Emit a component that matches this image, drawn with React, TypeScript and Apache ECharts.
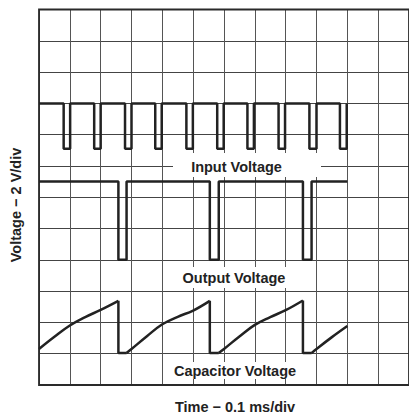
import React, { useEffect, useRef } from "react";
import * as echarts from "echarts";

// Time in divisions (0.1 ms/div), voltage in divisions (2 V/div)
const xDivisions = 12;
const yDivisions = 12;

// Input voltage: square wave with short low pulses
const inputHigh = 9.0;
const inputLow = 7.55;
const inputDipStart = [0.8, 1.79, 2.79, 3.77, 4.78, 5.78, 6.76, 7.77, 8.77, 9.76];
const inputDipEnd = [1.01, 2.0, 3.0, 3.98, 4.99, 5.99, 6.97, 7.98, 9.0, 9.98];
const inputEnd = 10.0;

// Output voltage
const outputHigh = 6.5;
const outputLow = 4.0;
const outputFall = [2.575, 5.54, 8.56];
const outputRise = [2.84, 5.83, 8.84];
const outputEnd = 10.0;

// Capacitor voltage ramps
const capLow = 1.02;
const capRamp1 = [[0, 1.15], [0.5, 1.54], [1, 1.9], [1.5, 2.17], [2, 2.4], [2.575, 2.69]];
const capRamp2 = [[2.84, 1.02], [3.0, 1.15], [3.5, 1.56], [4, 1.94], [4.5, 2.18], [5, 2.38], [5.54, 2.69]];
const capRamp3 = [[5.83, 1.02], [6.0, 1.15], [6.5, 1.55], [7, 1.92], [7.5, 2.17], [8, 2.39], [8.56, 2.7]];
const capRamp4 = [[8.84, 1.02], [9.0, 1.15], [9.5, 1.53], [10, 1.885]];
const capRamps = [capRamp1, capRamp2, capRamp3, capRamp4];

const labels = ["Input Voltage", "Output Voltage", "Capacitor Voltage"];
const xTitle = "Time − 0.1 ms/div";
const yTitle = "Voltage − 2 V/div";

function buildInput() {
  const pts: number[][] = [[0, inputHigh]];
  for (let i = 0; i < inputDipStart.length; i++) {
    pts.push([inputDipStart[i], inputHigh]);
    pts.push([inputDipStart[i], inputLow]);
    pts.push([inputDipEnd[i], inputLow]);
    pts.push([inputDipEnd[i], inputHigh]);
  }
  pts.push([inputEnd, inputHigh]);
  return pts;
}

function buildOutput() {
  const pts: number[][] = [[0, outputHigh]];
  for (let i = 0; i < outputFall.length; i++) {
    pts.push([outputFall[i], outputHigh]);
    pts.push([outputFall[i], outputLow]);
    pts.push([outputRise[i], outputLow]);
    pts.push([outputRise[i], outputHigh]);
  }
  pts.push([outputEnd, outputHigh]);
  return pts;
}

// discharge drops + flat bottoms between ramps, broken by nulls
function buildCapResets() {
  const pts: any[] = [];
  for (let i = 0; i < capRamps.length - 1; i++) {
    const end = capRamps[i][capRamps[i].length - 1];
    const next = capRamps[i + 1][0];
    pts.push([end[0], end[1]], [end[0], capLow], [next[0], next[1]], "-");
  }
  return pts;
}

const FONT = "'Liberation Sans', Arial, Helvetica, sans-serif";
const textStyle = (text: string) => ({
  text,
  fill: "#222",
  font: `bold 14.5px ${FONT}`,
  textAlign: "center",
  textVerticalAlign: "middle",
});

export default function App() {
  const ref = useRef<HTMLDivElement>(null);
  useEffect(() => {
    if (!ref.current) return;
    const chart = echarts.init(ref.current, null, { renderer: "svg" });
    const lineStyle = { color: "#222", width: 2.5 };
    const rampSeries = capRamps.map((r) => ({
      type: "line",
      data: r,
      symbol: "none",
      smooth: 0.4,
      lineStyle,
      z: 5,
    }));
    chart.setOption({
      animation: false,
      backgroundColor: "#fff",
      grid: {
        left: 39,
        top: 9.5,
        width: 377.4,
        height: 375.5,
        show: true,
        borderColor: "#2a2a2a",
        borderWidth: 1.8,
        z: 3,
      },
      xAxis: {
        type: "value",
        min: 0,
        max: xDivisions,
        interval: 1,
        axisLine: { show: false },
        axisTick: { show: false },
        axisLabel: { show: false },
        splitLine: { show: true, lineStyle: { color: "#555", width: 1 } },
      },
      yAxis: {
        type: "value",
        min: 0,
        max: yDivisions,
        interval: 1,
        axisLine: { show: false },
        axisTick: { show: false },
        axisLabel: { show: false },
        splitLine: { show: true, lineStyle: { color: "#444", width: 1 } },
      },
      series: [
        { type: "line", data: buildInput(), symbol: "none", lineStyle, z: 5 },
        { type: "line", data: buildOutput(), symbol: "none", lineStyle, z: 5 },
        ...rampSeries,
        { type: "line", data: buildCapResets(), symbol: "none", connectNulls: false, lineStyle, z: 5 },
      ],
      graphic: {
        elements: [
          { type: "rect", z: 50, shape: { x: 173, y: 153, width: 148, height: 24 }, style: { fill: "#fff" } },
          { type: "rect", z: 50, shape: { x: 168, y: 267, width: 136, height: 21 }, style: { fill: "#fff" } },
          { type: "rect", z: 50, shape: { x: 167, y: 362, width: 137, height: 17 }, style: { fill: "#fff" } },
          { type: "text", z: 60, x: 236.5, y: 166.5, style: textStyle(labels[0]) },
          { type: "text", z: 60, x: 234, y: 277.5, style: textStyle(labels[1]) },
          { type: "text", z: 60, x: 235, y: 371, style: textStyle(labels[2]) },
          { type: "text", z: 60, x: 235, y: 407, style: textStyle(xTitle) },
          { type: "text", z: 60, x: 16, y: 205, rotation: Math.PI / 2, style: textStyle(yTitle) },
        ],
      },
    });
    return () => chart.dispose();
  }, []);
  return (
    <div
      ref={ref}
      style={{ position: "fixed", left: 0, top: 0, width: 409, height: 416, background: "#fff" }}
    />
  );
}
